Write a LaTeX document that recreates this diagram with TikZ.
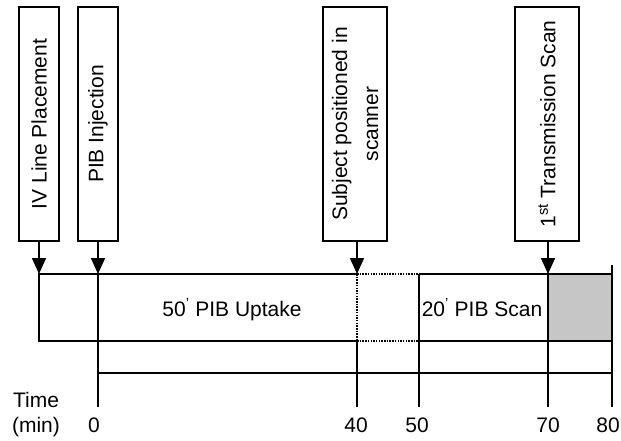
\documentclass[tikz,border=0pt]{standalone}
\usepackage{fontspec}
\setmainfont{Liberation Sans}
\usetikzlibrary{arrows.meta}
\begin{document}
\begin{tikzpicture}[x=1pt,y=-1pt,
  every node/.style={font=\fontsize{21}{25}\selectfont},
  vbox/.style={draw, line width=1.5pt, rotate=90, minimum width=234pt, inner sep=0pt, align=center},
  arr/.style={line width=1.5pt, -{Triangle[width=14pt,length=16pt]}},
  edge/.style={line width=1.6pt},
  dotline/.style={line width=1.6pt, dash pattern=on 1.5pt off 1.2pt},
  lbl/.style={anchor=base, inner sep=0pt}]
\useasboundingbox (0,0) rectangle (621,440);
% coordinates on the bar
\coordinate (aIV) at (39,274);
\coordinate (aPIB) at (98,274);
\coordinate (aSub) at (357,274);
\coordinate (aTr) at (548,274);
% grey block
\fill[gray!45] (548,274) rectangle (612,341);
% bar outline
\draw[edge] (357,274) -- (39,274) -- (39,341) -- (357,341);
\draw[edge] (419,274) -- (612,274);
\draw[edge] (419,341) -- (612,341);
\draw[dotline] (357,274) -- (419,274);
\draw[dotline] (357,341) -- (419,341);
\draw[dotline] (357,274) -- (357,341);
% ticks and time axis
\draw[edge] (98,274) -- (98,407);
\draw[edge] (357,341) -- (357,407);
\draw[edge] (419,274) -- (419,407);
\draw[edge] (548,274) -- (548,407);
\draw[line width=2.2pt] (612,265) -- (612,407);
\draw[edge] (98,373) -- (612,373);
% event boxes
\node[vbox, minimum height=40pt] (iv) at (39,124) {IV Line Placement};
\node[vbox, minimum height=40pt] (pib) at (98,124) {PIB Injection};
\node[vbox, minimum height=64pt, font=\fontsize{21}{31}\selectfont] (sub) at (355,124) {Subject positioned in\\scanner};
\node[vbox, minimum height=64pt] (tr) at (547,124) {1\textsuperscript{st} Transmission Scan};
% arrows
\draw[arr] (iv.west) -- (aIV);
\draw[arr] (pib.west) -- (aPIB);
\draw[arr] (sub.west -| aSub) -- (aSub);
\draw[arr] (tr.west -| aTr) -- (aTr);
% labels in bar
\node[lbl] (up) at (232,316) {50\textsuperscript{'} PIB Uptake};
\node[lbl] (sc) at (482,316) {20\textsuperscript{'} PIB Scan};
% axis labels
\node[lbl] (time) at (36,407) {Time};
\node[lbl] (min) at (36,432) {(min)};
\node[lbl] (n0) at (94,432) {0};
\node[lbl] (n40) at (356,432) {40};
\node[lbl] (n50) at (417,432) {50};
\node[lbl] (n70) at (548,432) {70};
\node[lbl] (n80) at (608,432) {80};
\end{tikzpicture}
\end{document}
